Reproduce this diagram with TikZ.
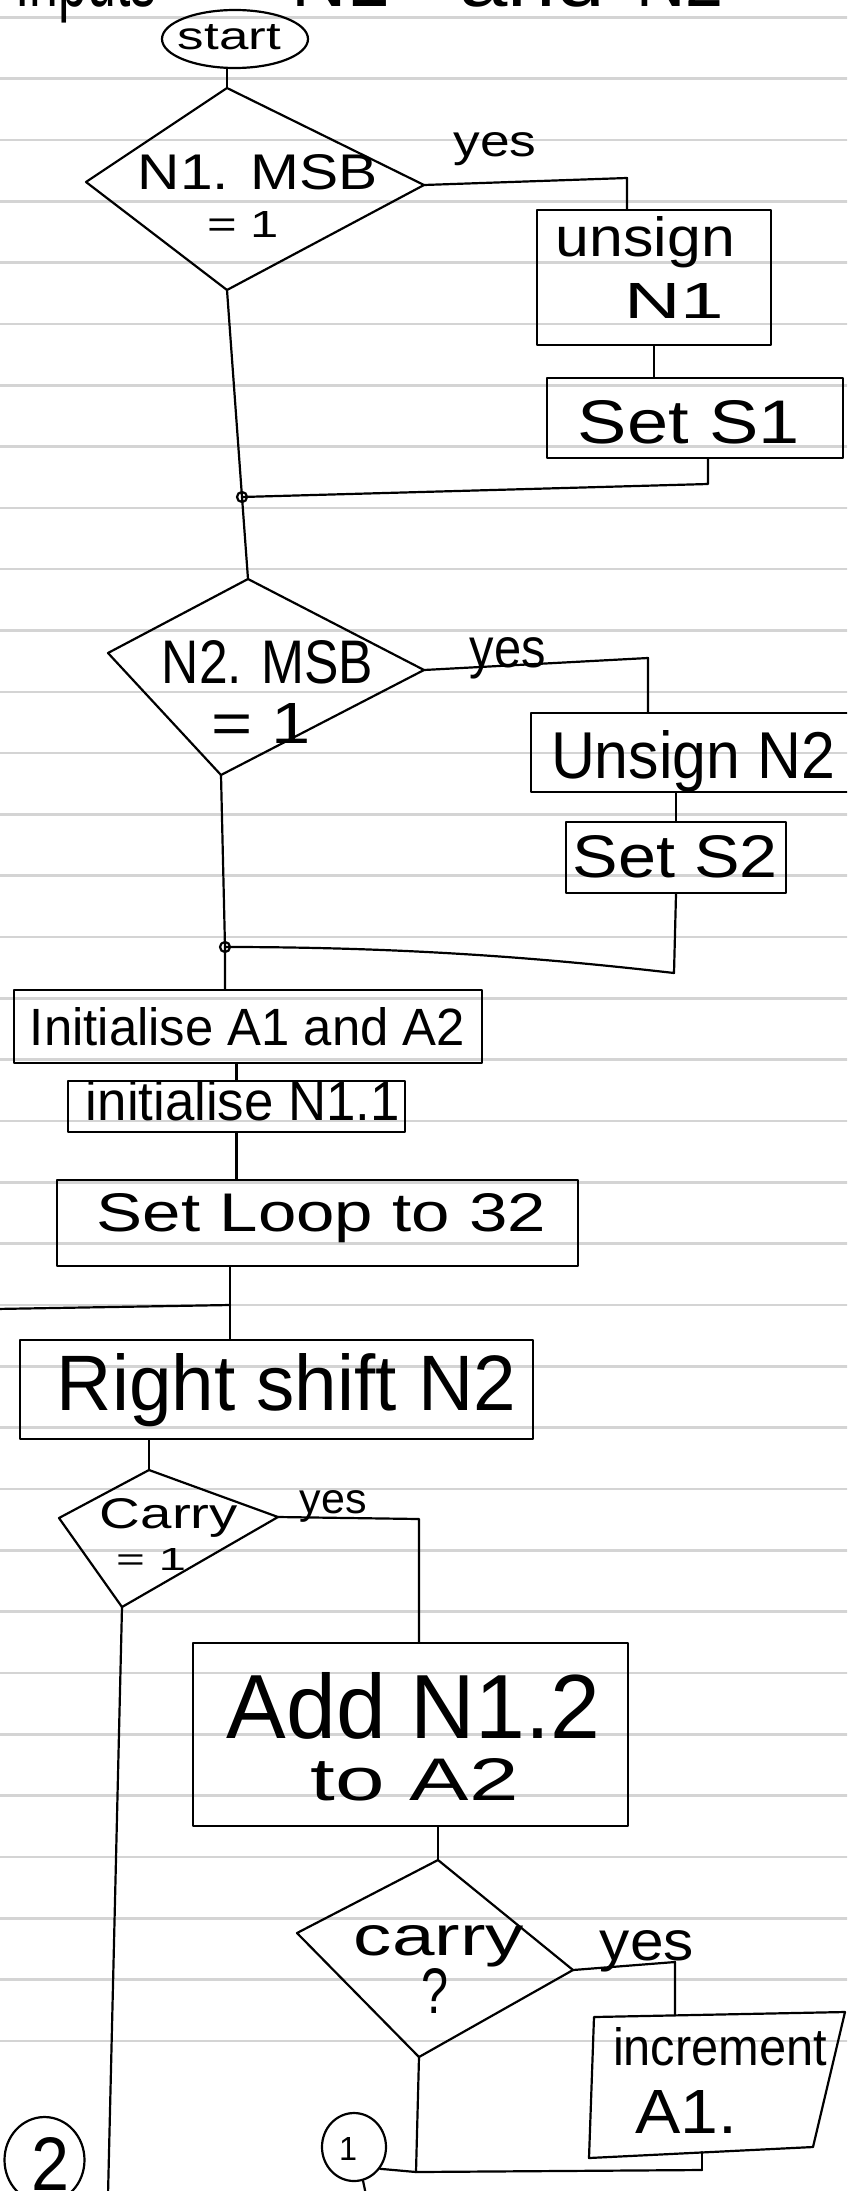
\documentclass[tikz,border=0pt]{standalone}
\usepackage{fontspec}
\setmainfont{Liberation Sans}
\usetikzlibrary{calc,shapes.geometric}
\definecolor{ruleGray}{RGB}{212,212,212}
\newcommand{\hwt}[6]{\node[hw] (#1) at (#2,#3) {\resizebox{#4pt}{#5pt}{#6}};}
\newcommand{\hwbox}[5]{\node[box, minimum width=#4pt, minimum height=#5pt] (#1) at (#2,#3) {};}
\begin{document}
\begin{tikzpicture}[x=1pt,y=-1pt, line width=2.2pt, line cap=round, line join=round,
  box/.style={draw, rectangle, inner sep=0pt},
  hw/.style={inner sep=0pt, anchor=base},
  oval/.style={draw, ellipse, inner sep=0pt},
  rule/.style={draw=ruleGray, line width=2.6pt}]
\useasboundingbox (0,0) rectangle (847,2191);
\clip (0,0) rectangle (847,2191);
\fill[white] (0,0) rectangle (847,2191);
% paper lines
\foreach \k in {0,...,33} \draw[rule] (0,{17.3+61.32*\k}) -- (847,{17.3+61.32*\k});

% title fragment (cut off at the top edge)
\hwt{t0a}{86}{7}{141}{55}{Inputs}
\hwt{t0b}{341}{7}{98}{55}{N1}
\hwt{t0c}{532}{7}{145}{55}{and}
\hwt{t0d}{680}{7}{87}{55}{N2}

% start
\node[oval, minimum width=146pt, minimum height=58pt] (start) at (235,39) {};
\hwt{ts}{229.5}{50}{103}{25}{start}

% decision 1
\coordinate (d1t) at (227,88); \coordinate (d1l) at (86,182);
\coordinate (d1r) at (424,185); \coordinate (d1b) at (227,290);
\draw (d1t) -- (d1r) -- (d1b) -- (d1l) -- cycle;
\hwt{tn1}{258}{190}{240}{35}{N1. MSB}
\hwt{te1}{243}{237}{72}{26}{= 1}
\hwt{ty1}{495}{157}{83}{24}{yes}

\hwbox{u1}{654}{277.5}{234}{135}
\hwt{tu1a}{645.5}{257}{179}{40}{unsign}
\hwt{tu1b}{674}{318}{100}{35}{N1}
\hwbox{s1}{695}{418}{296}{80}
\hwt{ts1}{689}{443}{222}{43}{Set S1}

\coordinate (j1) at (242,497);
\coordinate (e1) at (627,178);
\coordinate (e3) at (708,484);

% decision 2
\coordinate (d2t) at (248,579); \coordinate (d2l) at (108,653);
\coordinate (d2r) at (424,670); \coordinate (d2b) at (221,775);
\draw (d2t) -- (d2r) -- (d2b) -- (d2l) -- cycle;
\hwt{tn2}{267.5}{683}{211}{43}{N2. MSB}
\hwt{te2}{261}{743}{100}{40}{= 1}
\hwt{ty2}{508}{667}{76}{30}{yes}

\hwbox{u2}{691.5}{752.5}{321}{79}
\hwt{tu2}{693}{778}{284}{48}{Unsign N2}
\hwbox{s2}{676}{857.5}{220}{71}
\hwt{ts2}{675.5}{877}{205}{42}{Set S2}

\coordinate (j2) at (225,947);
\coordinate (e4) at (648,658);
\coordinate (e5) at (674,973);

\hwbox{i1}{248}{1026.5}{468}{73}
\hwt{ti1}{247.5}{1045}{435}{38}{Initialise A1 and A2}
\hwbox{i2}{236.5}{1106.5}{337}{51}
\hwt{ti2}{243}{1120}{314}{40}{initialise N1.1}
\hwbox{lp}{317.5}{1223}{521}{86}
\hwt{tl}{321.5}{1231}{449}{38}{Set Loop to 32}
\hwbox{sh}{276.5}{1389.5}{513}{99}
\hwt{tsh}{286.5}{1410}{459}{57}{Right shift N2}

\coordinate (e6) at (230,1305);
\coordinate (lb) at (-5,1309);

% decision 3
\coordinate (d3t) at (149,1470); \coordinate (d3l) at (59,1518);
\coordinate (d3r) at (278,1517); \coordinate (d3b) at (122,1607);
\draw (d3t) -- (d3r) -- (d3b) -- (d3l) -- cycle;
\hwt{tc}{169}{1528}{138}{30}{Carry}
\hwt{te3}{151}{1570}{70}{22}{= 1}
\hwt{ty3}{333.5}{1513}{67}{23}{yes}
\coordinate (e8) at (419,1519);
\coordinate (bot2) at (108,2195);

\hwbox{ad}{410.5}{1734.5}{435}{183}
\hwt{ta1}{413.5}{1738}{373}{66}{Add N1.2}
\hwt{ta2}{415}{1800}{208}{42}{to A2}

% decision 4
\coordinate (d4t) at (438,1860); \coordinate (d4l) at (297,1933);
\coordinate (d4r) at (573,1970); \coordinate (d4b) at (419,2057);
\draw (d4t) -- (d4r) -- (d4b) -- (d4l) -- cycle;
\hwt{tq}{439}{1955}{170}{30}{carry}
\hwt{tq2}{434.5}{2013}{27}{45}{?}
\hwt{ty4}{647}{1960}{94}{30}{yes}
\coordinate (e9) at (675,1962);

% increment box
\coordinate (it1) at (594,2017); \coordinate (it2) at (845,2012);
\coordinate (it3) at (813,2147); \coordinate (it4) at (589,2158);
\draw (it1) -- (it2) -- (it3) -- (it4) -- cycle;
\coordinate (incT) at (675,2015);
\coordinate (incB) at (702,2152);
\hwt{tin}{720}{2065}{214}{38}{increment}
\hwt{tin2}{686}{2133}{102}{43}{A1.}

\coordinate (k1) at (416,2172);
\coordinate (k2) at (702,2170);

% off-page connectors
\node[oval, minimum width=64pt, minimum height=68pt] (one) at (354,2147) {};
\hwt{t1}{348}{2160}{18}{23}{1}
\node[oval, minimum width=80pt, minimum height=86pt] (two) at (44.5,2160) {};
\hwt{t2}{51}{2190}{38}{53}{2}
\coordinate (bot1) at (366,2195);

% connectors
\draw (d1t |- start.south) -- (d1t);
\draw (d1r) -- (e1) -- (e1 |- u1.north);
\draw (u1.south) -- (u1.south |- s1.north);
\draw (s1.south -| e3) -- (e3) -- (j1);
\draw (d1b) -- (j1) -- (d2t);
\draw (j1) circle[radius=5];
\draw (d2r) -- (e4) -- (e4 |- u2.north);
\draw (s2.north |- u2.south) -- (s2.north);
\draw (s2.south) -- (e5) .. controls (560,960) and (420,947) .. (j2);
\draw (d2b) -- (j2) -- (j2 |- i1.north);
\draw (j2) circle[radius=5];
\draw (i2.north |- i1.south) -- (i2.north);
\draw (i2.south) -- (i2.south |- lp.north);
\draw (lp.south -| e6) -- (e6) -- (e6 |- sh.north);
\draw (lb) -- (e6);
\draw (d3t |- sh.south) -- (d3t);
\draw (d3r) -- (e8) -- (e8 |- ad.north);
\draw (d3b) -- (bot2);
\draw (d4t |- ad.south) -- (d4t);
\draw (d4r) -- (e9) -- (incT);
\draw (d4b) -- (k1) -- (k2);
\draw (incB) -- (k2);
\draw (one.-40) -- (k1);
\draw (one.-75) -- (bot1);
\end{tikzpicture}
\end{document}
